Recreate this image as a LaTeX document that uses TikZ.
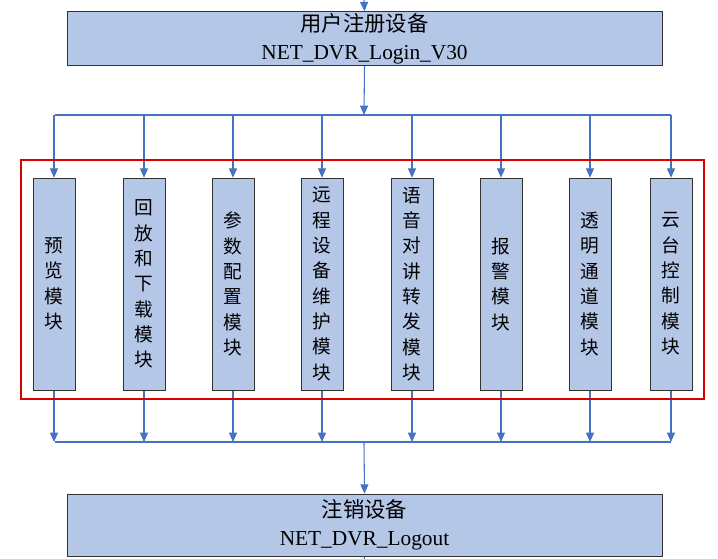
\documentclass[tikz,border=0pt]{standalone}
\usepackage{fontspec}
\setmainfont{Liberation Serif}
\newfontfamily\cjk{Noto Sans CJK SC}
\usetikzlibrary{arrows.meta,backgrounds}
\definecolor{boxfill}{HTML}{B4C7E7}
\definecolor{arr}{HTML}{4472C4}
\begin{document}
\begin{tikzpicture}[x=0.75pt,y=-0.75pt,
  bigbox/.style={draw=black!80,fill=boxfill,minimum width=595*0.75pt,minimum height=54*0.75pt,align=center,font=\fontsize{16}{21}\selectfont,inner sep=0pt},
  modbox/.style={draw=black!80,fill=boxfill,minimum width=42*0.75pt,minimum height=212*0.75pt,align=center,font=\cjk\fontsize{14}{19}\selectfont,inner sep=0pt},
  conn/.style={draw=arr,line width=0.8pt},
  arw/.style={conn,-{Triangle[length=7pt,width=6pt]}}]
\useasboundingbox (0,0) rectangle (718,559);
\node[bigbox] (top) at (364.5,38.5) {{\cjk 用户注册设备}\\NET\_DVR\_Login\_V30};
\node[bigbox,minimum height=62*0.75pt] (bot) at (364.5,525) {{\cjk 注销设备}\\NET\_DVR\_Logout};
\coordinate (in) at (364,0);
\coordinate (out) at (364,562);
\coordinate (tb) at (364,115);
\coordinate (bb) at (364,442);
\coordinate (tl) at (55,115); \coordinate (tr) at (671,115);
\coordinate (bl) at (55,442); \coordinate (br) at (671,442);
\draw[red!85!black,line width=1.6pt] (21,160) rectangle (704,399);
\foreach \i/\x/\t in {1/54/预\\览\\模\\块, 2/144/回\\放\\和\\下\\载\\模\\块, 3/233/参\\数\\配\\置\\模\\块, 4/322/远\\程\\设\\备\\维\\护\\模\\块, 5/412/语\\音\\对\\讲\\转\\发\\模\\块, 6/501/报\\警\\模\\块, 7/590/透\\明\\通\\道\\模\\块, 8/671/云\\台\\控\\制\\模\\块}{
  \node[modbox] (m\i) at (\x,284) {\t};
  \coordinate (u\i) at (\x,115);
  \coordinate (d\i) at (\x,442);
}
\begin{scope}[on background layer]
\draw[arw] (in) -- (top.north);
\draw[conn] (bot.south) -- (out);
\draw[arw] (top.south) -- (tb);
\draw[arw] (bb) -- (bot.north);
\draw[conn] (tl) -- (tr);
\draw[conn] (bl) -- (br);
\foreach \i in {1,...,8}{
  \draw[arw] (u\i) -- (m\i.north);
  \draw[arw] (m\i.south) -- (d\i);
}
\end{scope}
\end{tikzpicture}
\end{document}
